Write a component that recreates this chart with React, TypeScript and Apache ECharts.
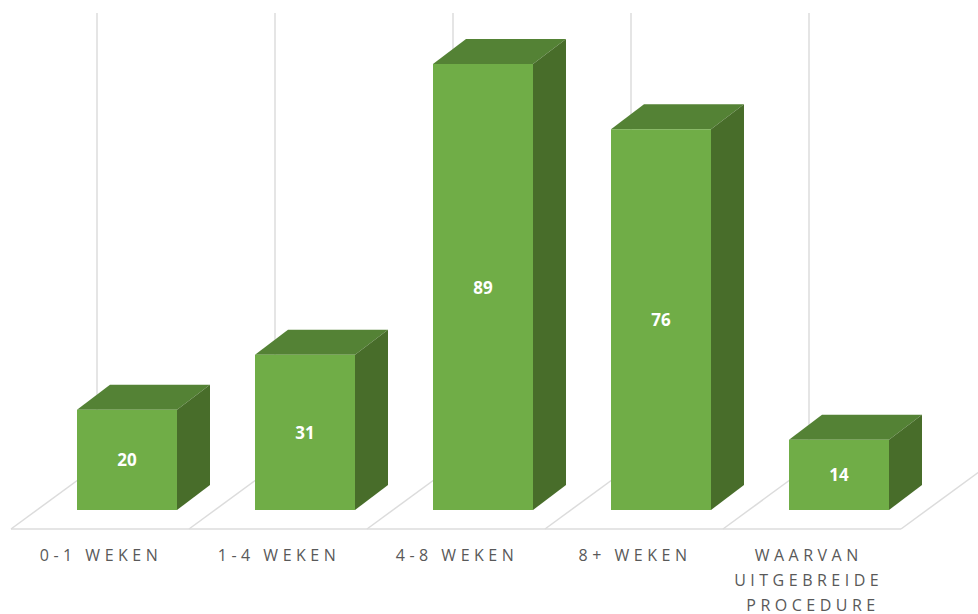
import React, { useEffect, useRef } from "react";
import * as echarts from "echarts";

const categories = ["0-1 WEKEN", "1-4 WEKEN", "4-8 WEKEN", "8+ WEKEN", "WAARVAN UITGEBREIDE PROCEDURE"];
const values = [20, 31, 89, 76, 14];
const axisMax = 100;
const wallTopValue = 99.2;

const FRONT = "#70ad47";
const TOP = "#548235";
const SIDE = "#486d2a";
const GRID = "#dcdcdc";
const LABEL = "#595959";
const HALF_BAR = 50;
const DEPTH_X = 33;
const DEPTH_Y = 25;
const FLOOR_LEFT = 116;
const FLOOR_FRONT = 19;
const FLOOR_DX = 86;
const FLOOR_DY = 63;

const line = (x1: number, y1: number, x2: number, y2: number) => ({
  type: "line",
  shape: { x1, y1, x2, y2 },
  style: { stroke: GRID, lineWidth: 1.5, fill: "none" },
});

function renderFloor(params: any, api: any) {
  const i = api.value(0);
  const [cx, y0] = api.coord([i, 0]);
  const step = api.size([1, 0])[0];
  const wallTop = api.coord([i, wallTopValue])[1];
  const left = cx - FLOOR_LEFT;
  const front = y0 + FLOOR_FRONT;
  const children: any[] = [
    line(left, front, left + step, front),
    line(left, front, left + FLOOR_DX, front - FLOOR_DY),
    line(left + FLOOR_DX, front - FLOOR_DY, left + FLOOR_DX, wallTop),
  ];
  if (i === categories.length - 1) {
    children.push(line(left + step, front, left + step + FLOOR_DX, front - FLOOR_DY));
  }
  return { type: "group", children };
}

function renderBar(params: any, api: any) {
  const i = api.value(0);
  const v = api.value(1);
  const [cx, yTop] = api.coord([i, v]);
  const yBase = api.coord([i, 0])[1];
  const l = cx - HALF_BAR;
  const r = cx + HALF_BAR;
  return {
    type: "group",
    children: [
      {
        type: "polygon",
        shape: { points: [[l, yTop], [l + DEPTH_X, yTop - DEPTH_Y], [r + DEPTH_X, yTop - DEPTH_Y], [r, yTop]] },
        style: { fill: TOP },
      },
      {
        type: "polygon",
        shape: { points: [[r, yTop], [r + DEPTH_X, yTop - DEPTH_Y], [r + DEPTH_X, yBase - DEPTH_Y], [r, yBase]] },
        style: { fill: SIDE },
      },
      { type: "rect", shape: { x: l, y: yTop, width: r - l, height: yBase - yTop }, style: { fill: FRONT } },
      {
        type: "text",
        style: {
          x: cx,
          y: (yTop + yBase) / 2,
          text: String(v),
          fill: "#ffffff",
          font: 'bold 17px "Open Sans", sans-serif',
          align: "center",
          verticalAlign: "middle",
        },
      },
    ],
  };
}

export default function App() {
  const ref = useRef<HTMLDivElement>(null);
  useEffect(() => {
    const chart = echarts.init(ref.current!, undefined, { renderer: "svg" });
    chart.setOption({
      animation: false,
      grid: { left: 38, width: 890, top: 9, height: 501, outerBoundsMode: "none" },
      xAxis: {
        type: "category",
        data: categories,
        axisLine: { show: false },
        axisTick: { show: false },
        splitLine: { show: false },
        axisLabel: {
          interval: 0,
          margin: 32,
          color: LABEL,
          fontFamily: '"Open Sans", sans-serif',
          fontSize: 16,
          lineHeight: 25,
          width: 130,
          overflow: "break",
          padding: [0, 52, 0, 0],
          hideOverlap: false,
        },
      },
      yAxis: { type: "value", min: 0, max: axisMax, show: false },
      series: [
        { type: "custom", z: 1, renderItem: renderFloor, data: values.map((v, i) => [i, v]), silent: true },
        { type: "custom", z: 2, renderItem: renderBar, data: values.map((v, i) => [i, v]), silent: true },
      ],
    });
    return () => chart.dispose();
  }, []);
  return (
    <>
      <style>{`#chart svg text[fill="${LABEL}"], #chart svg text[style*="${LABEL}"] { letter-spacing: 4.5px; }`}</style>
      <div id="chart" ref={ref} style={{ position: "absolute", left: 0, top: 0, width: 978, height: 614 }} />
    </>
  );
}
